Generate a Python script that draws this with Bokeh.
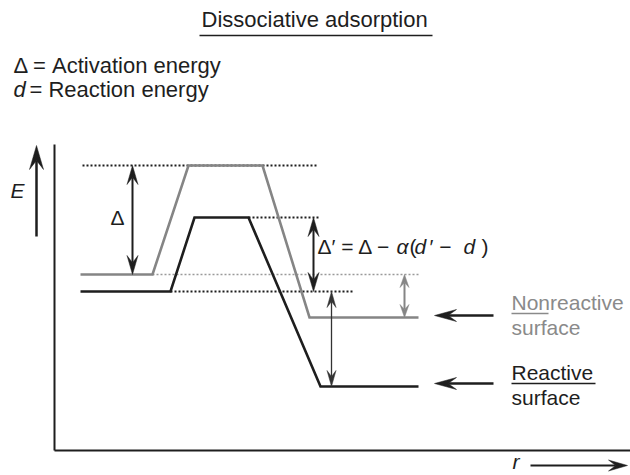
import math
from bokeh.plotting import figure
from bokeh.models import Range1d, Label
from bokeh.embed import file_html
from bokeh.resources import INLINE

# ---- schematic data (reaction coordinate r, energy E; E grows upward) ----
r_nonreactive = [80, 152, 188, 262, 309, 418]
E_nonreactive = [201, 201, 310, 310, 158, 158]
r_reactive = [80, 170, 194, 248, 320, 418]
E_reactive = [184, 184, 258, 258, 89, 89]

title_text = "Dissociative adsorption"
legend_lines = ["\u0394 = Activation energy", "= Reaction energy"]
delta_prime_parts = ["\u0394\u2032 = \u0394 \u2212 ", "\u03b1", "(", "d", "\u2032 \u2212 ", "d", ")"]
delta_prime_italic = [False, True, False, True, False, True, False]
delta_prime_x = [317, 396, 409, 414, 429, 463, 481]

FONT = "Liberation Sans"
BLACK = "#1e1e1e"
GRAY = "#858585"
LIGHT = "#9a9a9a"

p = figure(width=630, height=475, x_range=Range1d(0, 630), y_range=Range1d(0, 475),
           output_backend="svg", toolbar_location=None, x_axis_type=None, y_axis_type=None,
           min_border=0, min_border_left=0, min_border_right=0, min_border_top=0,
           min_border_bottom=0)
p.grid.visible = False
p.outline_line_color = None
p.background_fill_color = "white"
p.border_fill_color = "white"

heads_x, heads_y, heads_c = [], [], []


def arrow(x0, y0, x1, y1, color, lw, hw, hl, start=True, end=True):
    dx, dy = x1 - x0, y1 - y0
    L = math.hypot(dx, dy)
    ux, uy = dx / L, dy / L
    px, py = -uy, ux
    notch = 0.62 * hl
    sx, sy, ex, ey = x0, y0, x1, y1
    for flag, tx, ty, dirx, diry, is_end in ((end, x1, y1, ux, uy, True),
                                             (start, x0, y0, -ux, -uy, False)):
        if not flag:
            continue
        bx, by = tx - dirx * hl, ty - diry * hl
        nx, ny = tx - dirx * notch, ty - diry * notch
        heads_x.append([tx, bx + px * hw / 2, nx, bx - px * hw / 2])
        heads_y.append([ty, by + py * hw / 2, ny, by - py * hw / 2])
        heads_c.append(color)
        if is_end:
            ex, ey = nx, ny
        else:
            sx, sy = nx, ny
    p.line([sx, ex], [sy, ey], line_color=color, line_width=lw)


# axes of the schematic
p.line([54, 54], [331, 25], line_color=BLACK, line_width=2)
p.line([54, 630], [25, 25], line_color=BLACK, line_width=2)
arrow(36, 239, 36, 330, BLACK, 2.5, 14, 24, start=False)
arrow(530, 10, 627, 10, BLACK, 2, 11, 19, start=False)

# dotted reference levels
p.line([82, 318], [E_nonreactive[2]] * 2, line_color=BLACK, line_width=2, line_dash="2 2")
p.line([r_reactive[3], 320], [E_reactive[2]] * 2, line_color=BLACK, line_width=2, line_dash="2 2")
p.line([r_nonreactive[1], r_nonreactive[5]], [E_nonreactive[0]] * 2, line_color=LIGHT,
       line_width=1.6, line_dash="2 2")
p.line([r_reactive[1], 352], [E_reactive[0]] * 2, line_color=BLACK, line_width=2, line_dash="2 2")

# energy paths
p.line(r_nonreactive, E_nonreactive, line_color=GRAY, line_width=2.6, line_join="miter")
p.line(r_reactive, E_reactive, line_color=BLACK, line_width=2.6, line_join="miter")

# double arrows
arrow(132, E_nonreactive[0], 132, E_nonreactive[2], BLACK, 2, 11, 19)
arrow(313, E_reactive[0], 313, E_reactive[2], BLACK, 2, 11, 19)
arrow(404, E_nonreactive[4], 404, E_nonreactive[0], GRAY, 2, 9, 13)
arrow(331, E_reactive[4], 331, E_reactive[0], "#333333", 1.3, 9, 16)

# pointer arrows to surfaces
arrow(493, 160, 434, 160, BLACK, 2.5, 12, 22, start=False)
arrow(493, 92, 434, 92, BLACK, 2.5, 12, 22, start=False)

p.patches(heads_x, heads_y, fill_color=heads_c, line_color=heads_c, line_width=0.5)


def label(x, baseline, text, size=21, color=BLACK, italic=False):
    p.add_layout(Label(x=x, y=baseline + 0.35 * size, text=text, text_font=FONT,
                       text_font_size=f"{size}px", text_color=color,
                       text_baseline="middle", text_align="left",
                       text_font_style="italic" if italic else "normal"))


# title + underline
label(201, 448, title_text, size=22)
p.line([199, 432], [440, 440], line_color=BLACK, line_width=1.6)

# legend
label(13, 402, legend_lines[0], size=22)
label(13, 378, "d", size=22, italic=True)
label(29, 378, legend_lines[1], size=22)

# axis labels
label(10, 278, "E", italic=True)
label(512, 7, "r", italic=True)

# delta label
label(110, 251, "\u0394")
for txt, it, xx in zip(delta_prime_parts, delta_prime_italic, delta_prime_x):
    label(xx, 222, txt, italic=it)

# surface labels
label(511, 166, "Nonreactive", color="#8a8a8a")
label(511, 141, "surface", color="#8a8a8a")
p.line([511, 548], [162, 162], line_color="#8a8a8a", line_width=1.5)
label(511, 96, "Reactive")
label(511, 71, "surface")
p.line([511, 595], [92, 92], line_color=BLACK, line_width=1.5)

open("out.html", "w").write(file_html(p, INLINE))
